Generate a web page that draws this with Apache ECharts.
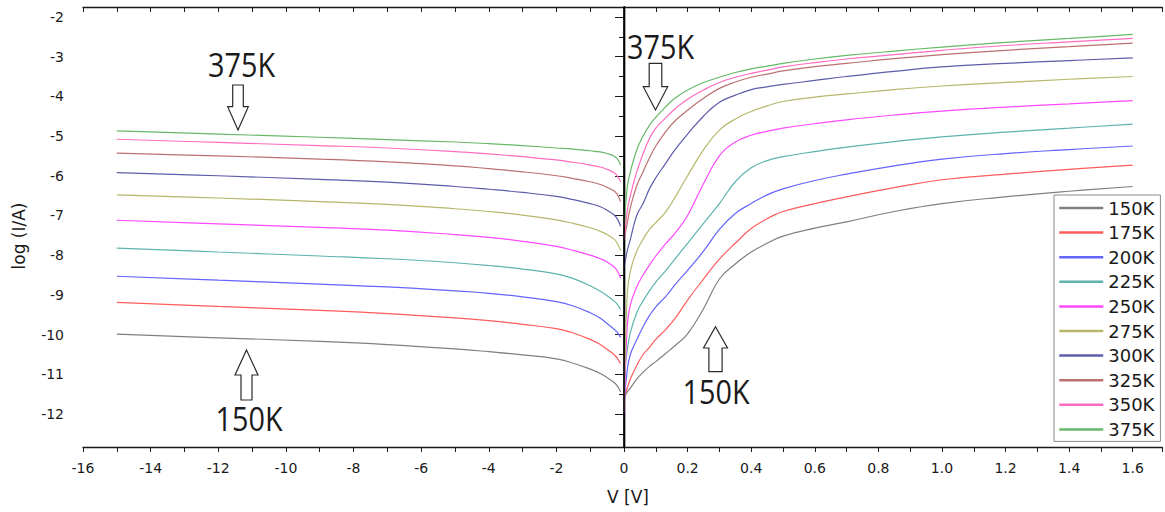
<!DOCTYPE html>
<html>
<head>
<meta charset="utf-8">
<script src="https://cdn.jsdelivr.net/npm/echarts@6/dist/echarts.min.js"></script>
<style>
html,body{margin:0;padding:0;background:#fff;}
#chart{width:1165px;height:512px;}
</style>
</head>
<body>
<div id="chart"></div>
<script>
// ---- data ----
const temps = ['150K','175K','200K','225K','250K','275K','300K','325K','350K','375K'];
const colors = ['#808080','#ff5c5c','#6464ff','#5fb3ae','#ff48ff','#b7b76c','#5c5cab','#bb7070','#ff6cbf','#68b868'];

// reverse bias side, V in volts
const vLeft = [-15, -12, -9, -7, -5, -4, -3, -2, -1.5, -1, -0.7, -0.5, -0.3, -0.2, -0.1];
// forward bias side, V in volts
const vRight = [0.001, 0.01, 0.02, 0.04, 0.06, 0.08, 0.1, 0.13, 0.16, 0.2, 0.25, 0.3, 0.35, 0.4, 0.45, 0.5, 0.6, 0.7, 0.85, 1.0, 1.2, 1.4, 1.6];

// log(I/A), reverse side
const left150K = [-9.99, -10.08, -10.17, -10.25, -10.36, -10.43, -10.51, -10.61, -10.72, -10.87, -10.98, -11.08, -11.2, -11.29, -11.44];
const left175K = [-9.19, -9.29, -9.39, -9.47, -9.58, -9.65, -9.74, -9.85, -9.96, -10.12, -10.25, -10.37, -10.5, -10.59, -10.73];
const left200K = [-8.53, -8.63, -8.73, -8.8, -8.9, -8.96, -9.05, -9.17, -9.28, -9.45, -9.59, -9.72, -9.86, -9.94, -10.07];
const left225K = [-7.82, -7.92, -8.02, -8.09, -8.19, -8.26, -8.35, -8.47, -8.59, -8.77, -8.91, -9.02, -9.15, -9.23, -9.37];
const left250K = [-7.12, -7.21, -7.3, -7.37, -7.48, -7.55, -7.65, -7.78, -7.88, -8.0, -8.09, -8.17, -8.29, -8.39, -8.58];
const left275K = [-6.48, -6.56, -6.65, -6.72, -6.83, -6.9, -6.99, -7.11, -7.2, -7.31, -7.4, -7.48, -7.59, -7.7, -7.88];
const left300K = [-5.92, -6.0, -6.09, -6.16, -6.27, -6.34, -6.42, -6.52, -6.6, -6.7, -6.78, -6.87, -6.98, -7.08, -7.27];
const left325K = [-5.43, -5.5, -5.58, -5.65, -5.75, -5.82, -5.9, -6.0, -6.07, -6.15, -6.22, -6.29, -6.38, -6.47, -6.65];
const left350K = [-5.08, -5.16, -5.24, -5.3, -5.39, -5.45, -5.52, -5.6, -5.66, -5.73, -5.78, -5.84, -5.92, -6.0, -6.15];
const left375K = [-4.87, -4.95, -5.03, -5.09, -5.15, -5.19, -5.24, -5.3, -5.33, -5.37, -5.4, -5.44, -5.5, -5.57, -5.73];

// log(I/A), forward side
const right150K = [-11.6, -11.45, -11.35, -11.12, -10.95, -10.8, -10.68, -10.48, -10.28, -9.98, -9.35, -8.6, -8.22, -7.92, -7.7, -7.52, -7.32, -7.16, -6.9, -6.7, -6.53, -6.39, -6.27];
const right175K = [-11.6, -11.35, -11.12, -10.78, -10.5, -10.32, -10.12, -9.88, -9.6, -9.13, -8.6, -8.1, -7.7, -7.33, -7.08, -6.9, -6.7, -6.53, -6.3, -6.1, -5.96, -5.84, -5.73];
const right200K = [-11.7, -10.9, -10.5, -10.13, -9.8, -9.52, -9.3, -9.05, -8.75, -8.38, -7.9, -7.35, -6.95, -6.7, -6.48, -6.33, -6.12, -5.96, -5.75, -5.58, -5.44, -5.34, -5.25];
const right225K = [-11.0, -10.4, -9.95, -9.45, -9.15, -8.9, -8.68, -8.4, -8.1, -7.7, -7.2, -6.7, -6.15, -5.8, -5.62, -5.52, -5.39, -5.28, -5.14, -5.02, -4.9, -4.8, -4.7];
const right250K = [-12.0, -9.8, -9.25, -8.8, -8.5, -8.25, -8.02, -7.72, -7.45, -7.0, -6.2, -5.5, -5.15, -4.98, -4.88, -4.8, -4.69, -4.59, -4.47, -4.37, -4.27, -4.19, -4.11];
const right275K = [-11.8, -9.0, -8.4, -7.9, -7.6, -7.35, -7.18, -6.92, -6.55, -6.0, -5.35, -4.85, -4.57, -4.38, -4.24, -4.13, -4.02, -3.94, -3.83, -3.74, -3.65, -3.57, -3.5];
const right300K = [-8.3, -7.9, -7.6, -7.0, -6.7, -6.33, -6.05, -5.7, -5.35, -4.95, -4.5, -4.15, -3.97, -3.83, -3.76, -3.7, -3.6, -3.5, -3.37, -3.26, -3.17, -3.1, -3.03];
const right325K = [-7.6, -7.2, -6.8, -6.25, -5.9, -5.55, -5.25, -4.9, -4.62, -4.35, -4.05, -3.8, -3.64, -3.52, -3.44, -3.36, -3.25, -3.17, -3.05, -2.95, -2.84, -2.75, -2.66];
const right350K = [-7.6, -6.9, -6.5, -5.9, -5.45, -5.06, -4.8, -4.55, -4.32, -4.07, -3.84, -3.65, -3.52, -3.42, -3.34, -3.26, -3.15, -3.06, -2.95, -2.84, -2.72, -2.63, -2.54];
const right375K = [-7.3, -6.3, -5.9, -5.35, -5.0, -4.73, -4.53, -4.27, -4.05, -3.84, -3.65, -3.52, -3.4, -3.31, -3.24, -3.17, -3.06, -2.97, -2.86, -2.76, -2.64, -2.54, -2.44];

// axis tick labels
const xLeftTicks = [-16, -14, -12, -10, -8, -6, -4, -2, 0];
const xRightTicks = [0, 0.2, 0.4, 0.6, 0.8, 1.0, 1.2, 1.4, 1.6];
const yTicks = [-12, -11, -10, -9, -8, -7, -6, -5, -4, -3, -2];
const yMinorTicks = [-12.5, -11.5, -10.5, -9.5, -8.5, -7.5, -6.5, -5.5, -4.5, -3.5, -2.5];

const leftSets = [left150K, left175K, left200K, left225K, left250K, left275K, left300K, left325K, left350K, left375K];
const rightSets = [right150K, right175K, right200K, right225K, right250K, right275K, right300K, right325K, right350K, right375K];

// ---- chart ----
const FONT = 'DejaVu Sans';
const INK = '#1a1a1a';
const Y_MIN = -12.83, Y_MAX = -1.75;
const XR_MAX = 1.692;

const series = [];
temps.forEach((t, i) => {
  const common = {
    name: t, type: 'line', symbol: 'none', showSymbol: false, smooth: 0.45,
    lineStyle: { color: colors[i], width: 1.2 }, itemStyle: { color: colors[i] },
    emphasis: { disabled: true }, z: 3
  };
  series.push(Object.assign({}, common, {
    xAxisIndex: 0, yAxisIndex: 0,
    data: vLeft.map((v, k) => [v, leftSets[i][k]])
  }));
  series.push(Object.assign({}, common, {
    xAxisIndex: 1, yAxisIndex: 2,
    data: vRight.map((v, k) => [v, rightSets[i][k]])
  }));
});

const axisLineStyle = { show: true, lineStyle: { color: INK, width: 1.4 } };
const labelStyle = { fontFamily: FONT, fontSize: 14, color: INK };

function arrowDown(cx, top, shaftBottom, tip, shaftHalf, headHalf) {
  return [[cx - shaftHalf, top], [cx + shaftHalf, top], [cx + shaftHalf, shaftBottom],
          [cx + headHalf, shaftBottom], [cx, tip], [cx - headHalf, shaftBottom], [cx - shaftHalf, shaftBottom]];
}
function arrowUp(cx, tip, headBase, bottom, shaftHalf, headHalf) {
  return [[cx, tip], [cx + headHalf, headBase], [cx + shaftHalf, headBase], [cx + shaftHalf, bottom],
          [cx - shaftHalf, bottom], [cx - shaftHalf, headBase], [cx - headHalf, headBase]];
}
const arrowStyle = { fill: '#fff', stroke: '#2a2a2a', lineWidth: 1.2 };
const annoFont = { fontFamily: 'Open Sans', fontSize: 32, fill: '#1a1a1a', textAlign: 'center', textVerticalAlign: 'middle' };

const option = {
  animation: false,
  backgroundColor: '#fff',
  grid: [
    { left: 83, top: 7, width: 541, height: 440 },
    { left: 624, top: 7, width: 538, height: 440 }
  ],
  xAxis: [
    { gridIndex: 0, type: 'value', position: 'bottom', min: xLeftTicks[0], max: xLeftTicks[xLeftTicks.length - 1], interval: 2,
      axisLine: axisLineStyle, axisTick: { show: true, length: 5, lineStyle: { color: INK } },
      minorTick: { show: true, splitNumber: 2, length: 5, lineStyle: { color: INK } },
      axisLabel: Object.assign({ margin: 14 }, labelStyle), splitLine: { show: false } },
    { gridIndex: 1, type: 'value', position: 'bottom', min: xRightTicks[0], max: XR_MAX, interval: 0.2,
      axisLine: axisLineStyle, axisTick: { show: true, length: 5, lineStyle: { color: INK } },
      minorTick: { show: true, splitNumber: 2, length: 5, lineStyle: { color: INK } },
      axisLabel: Object.assign({ margin: 14, showMaxLabel: false, showMinLabel: false,
        formatter: v => (xRightTicks.some(t => Math.abs(t - v) < 1e-6) && v !== 0) ? v.toFixed(1) : '' }, labelStyle),
      splitLine: { show: false } },
    { gridIndex: 0, type: 'value', position: 'top', min: -16, max: 0, interval: 1,
      axisLine: axisLineStyle, axisTick: { show: true, inside: true, length: 5, lineStyle: { color: INK } },
      axisLabel: { show: false }, splitLine: { show: false } },
    { gridIndex: 1, type: 'value', position: 'top', min: 0, max: XR_MAX, interval: 0.1,
      axisLine: axisLineStyle, axisTick: { show: true, inside: true, length: 5, lineStyle: { color: INK } },
      axisLabel: { show: false }, splitLine: { show: false } }
  ],
  yAxis: [
    { gridIndex: 0, type: 'value', position: 'left', min: Y_MIN, max: Y_MAX,
      axisLine: axisLineStyle,
      axisTick: { show: true, length: 9, customValues: yTicks, lineStyle: { color: INK } },
      axisLabel: Object.assign({ margin: 19, customValues: yTicks }, labelStyle),
      splitLine: { show: false } },
    { gridIndex: 0, type: 'value', position: 'left', min: Y_MIN, max: Y_MAX,
      axisLine: { show: false },
      axisTick: { show: true, length: 5, customValues: yMinorTicks, lineStyle: { color: INK } },
      axisLabel: { show: false }, splitLine: { show: false } },
    { gridIndex: 1, type: 'value', position: 'left', min: Y_MIN, max: Y_MAX, z: 10,
      axisLine: { show: true, lineStyle: { color: '#000', width: 1.6 } },
      axisTick: { show: false }, axisLabel: { show: false }, splitLine: { show: false } },
    { gridIndex: 1, type: 'value', position: 'right', min: Y_MIN, max: Y_MAX,
      axisLine: axisLineStyle,
      axisTick: { show: true, inside: true, length: 5, customValues: yTicks.concat(yMinorTicks), lineStyle: { color: INK } },
      axisLabel: { show: false }, splitLine: { show: false } }
  ],
  legend: {
    data: temps, orient: 'vertical', left: 1054, top: 195,
    itemWidth: 44, itemHeight: 14, itemGap: 6.6,
    padding: [4, 6, 3, 4],
    borderColor: '#8a8a8a', borderWidth: 1, backgroundColor: '#fff',
    textStyle: { fontFamily: FONT, fontSize: 18, color: INK, lineHeight: 17 },
    lineStyle: { width: 2.5 },
    itemStyle: { opacity: 0 },
    selectedMode: false, z: 20
  },
  graphic: [
    { type: 'text', x: 19, y: 236, rotation: Math.PI / 2,
      style: { text: 'log (I/A)', fontFamily: FONT, fontSize: 17, fill: INK, textAlign: 'center', textVerticalAlign: 'middle' } },
    { type: 'text', x: 628, y: 497,
      style: { text: 'V [V]', fontFamily: FONT, fontSize: 17, fill: INK, textAlign: 'center', textVerticalAlign: 'middle' } },

    { type: 'text', x: 241.5, y: 64.5, scaleX: 0.9, style: Object.assign({ text: '375K' }, annoFont) },
    { type: 'polygon', shape: { points: arrowDown(238, 85, 106.7, 130, 5.3, 10.3) }, style: arrowStyle },

    { type: 'text', x: 249, y: 418.5, scaleX: 0.9, style: Object.assign({ text: '150K' }, annoFont) },
    { type: 'polygon', shape: { points: arrowUp(246.5, 350, 375, 400, 5.5, 11.5) }, style: arrowStyle },

    { type: 'text', x: 660.5, y: 46, scaleX: 0.9, style: Object.assign({ text: '375K' }, annoFont) },
    { type: 'polygon', shape: { points: arrowDown(655.5, 63.3, 86.7, 110, 6.3, 12.2) }, style: arrowStyle },

    { type: 'text', x: 716, y: 391.7, scaleX: 0.9, style: Object.assign({ text: '150K' }, annoFont) },
    { type: 'polygon', shape: { points: arrowUp(715.5, 326.7, 348, 371.7, 6.6, 12) }, style: arrowStyle }
  ],
  series: series
};

const chart = echarts.init(document.getElementById('chart'), null, { renderer: 'svg', width: 1165, height: 512 });
chart.setOption(option);
</script>
</body>
</html>
